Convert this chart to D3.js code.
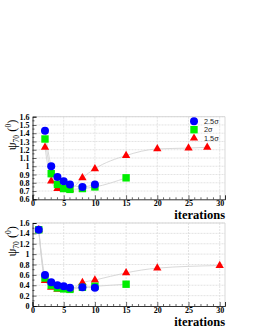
<!DOCTYPE html>
<html><head><meta charset="utf-8">
<script src="https://cdn.jsdelivr.net/npm/d3@7"></script>
<style>
body{margin:0;background:#fff;}
svg{display:block;}
</style></head>
<body>
<svg id="c" width="254" height="330"></svg>
<script>
// ---- data ----
const seriesNames = ["2.5σ", "2σ", "1.5σ"];
const seriesColors = ["#0000ff", "#00ee00", "#ff0000"];
const seriesShapes = ["circle", "square", "triangle"];

// top panel
const topX_25 = [2, 3, 4, 5, 6, 8, 10];
const topY_25 = [1.43, 1.00, 0.87, 0.82, 0.78, 0.75, 0.78];
const topX_20 = [2, 3, 4, 5, 6, 8, 10, 15];
const topY_20 = [1.33, 0.91, 0.78, 0.73, 0.72, 0.73, 0.75, 0.86];
const topX_15 = [2, 3, 4, 5, 6, 8, 10, 15, 20, 25, 28];
const topY_15 = [1.23, 0.82, 0.73, 0.72, 0.72, 0.86, 0.97, 1.13, 1.21, 1.22, 1.23];

// bottom panel
const botX_25 = [1, 2, 3, 4, 5, 6, 8, 10];
const botY_25 = [1.47, 0.60, 0.46, 0.40, 0.38, 0.35, 0.36, 0.35];
const botX_20 = [1, 2, 3, 4, 5, 6, 8, 10, 15];
const botY_20 = [1.47, 0.54, 0.40, 0.35, 0.33, 0.32, 0.36, 0.38, 0.42];
const botX_15 = [1, 2, 3, 4, 5, 6, 8, 10, 15, 20, 30];
const botY_15 = [1.47, 0.49, 0.36, 0.32, 0.32, 0.32, 0.45, 0.50, 0.64, 0.73, 0.78];

const xTicks = [0, 5, 10, 15, 20, 25, 30];
const topYTicks = [0.6, 0.7, 0.8, 0.9, 1, 1.1, 1.2, 1.3, 1.4, 1.5, 1.6];
const botYTicks = [0, 0.2, 0.4, 0.6, 0.8, 1, 1.2, 1.4, 1.6];

// ---- drawing ----
const svg = d3.select("#c");
const L = 32.5, R = 225;
const serifFont = "'Liberation Serif','Times New Roman',serif";

function panel(cfg){
  const x = d3.scaleLinear().domain([0, 30.85]).range([L, R]);
  const y = d3.scaleLinear().domain(cfg.ydom).range([cfg.bottom, cfg.top]);
  const g = svg.append("g");
  // grid
  g.selectAll(".gx").data(xTicks.filter(t=>t>0)).join("line")
    .attr("x1", d=>x(d)).attr("x2", d=>x(d)).attr("y1", cfg.top).attr("y2", cfg.bottom)
    .attr("stroke", "#dcdcdc").attr("stroke-width", 0.8).attr("stroke-dasharray", "2,1");
  g.selectAll(".gy").data(cfg.yticks.slice(1)).join("line")
    .attr("x1", L).attr("x2", R).attr("y1", d=>y(d)).attr("y2", d=>y(d))
    .attr("stroke", "#dcdcdc").attr("stroke-width", 0.8).attr("stroke-dasharray", "2,1");
  // frame top/right
  g.append("path").attr("d", `M${L},${cfg.top}H${R}V${cfg.bottom}`)
    .attr("fill", "none").attr("stroke", "#cfcfcf").attr("stroke-width", 0.8);

  // axes
  const xAxis = d3.axisBottom(x).tickValues(xTicks).tickSize(-4).tickPadding(1.5)
    .tickFormat(d3.format("d"));
  const xa = g.append("g").attr("transform", `translate(0,${cfg.bottom})`).call(xAxis);
  const minorX = d3.range(1, 31).filter(v=>v%5!==0);
  xa.selectAll(".mt").data(minorX).join("line").attr("class","mt")
    .attr("x1", d=>x(d)).attr("x2", d=>x(d)).attr("y1", 0).attr("y2", -2)
    .attr("stroke", "#000").attr("stroke-width", 0.6);
  const yAxis = d3.axisLeft(y).tickValues(cfg.yticks).tickSize(-4).tickPadding(3)
    .tickFormat(d=>d3.format("")(+d.toFixed(1)));
  const ya = g.append("g").attr("transform", `translate(${L},0)`).call(yAxis);
  const minorY = cfg.minorY;
  ya.selectAll(".mt").data(minorY).join("line").attr("class","mt")
    .attr("x1", 0).attr("x2", 2).attr("y1", d=>y(d)).attr("y2", d=>y(d))
    .attr("stroke", "#000").attr("stroke-width", 0.6);
  [xa, ya].forEach(a=>{
    a.select(".domain").attr("stroke", "#000").attr("stroke-width", 0.8);
    a.selectAll(".tick line").attr("stroke", "#000").attr("stroke-width", 0.6);
    a.selectAll("text").attr("font-family", serifFont).attr("font-weight", "bold")
      .attr("font-size", 8).attr("fill", "#000");
  });

  // lines
  const line = d3.line().x(d=>x(d[0])).y(d=>y(d[1])).curve(d3.curveMonotoneX);
  cfg.series.forEach(s=>{
    g.append("path").datum(d3.zip(s.xs, s.ys)).attr("d", line)
      .attr("fill", "none").attr("stroke", "#d4d4d4").attr("stroke-width", 0.9);
  });
  // markers: draw red, green, blue (blue on top)
  [2, 1, 0].forEach(i=>{
    const s = cfg.series[i];
    const pts = d3.zip(s.xs, s.ys);
    drawMarkers(g, pts.map(p=>[x(p[0]), y(p[1])]), i);
  });

  // x title
  g.append("text").attr("x", R).attr("y", cfg.bottom + cfg.titleOff).attr("text-anchor", "end")
    .attr("font-family", serifFont).attr("font-weight", "bold").attr("font-size", 12.5)
    .text("iterations");
  // y title
  const t = g.append("text").attr("transform", `translate(15.5,${cfg.top + 3}) rotate(-90)`)
    .attr("text-anchor", "end").attr("font-family", serifFont).attr("font-size", 12.5);
  t.append("tspan").text("ψ");
  t.append("tspan").attr("font-size", 7.5).attr("dy", 3).text("70");
  t.append("tspan").attr("dy", -3).text(" (");
  t.append("tspan").attr("font-size", 7.5).attr("dy", -5).text("0");
  t.append("tspan").attr("dy", 5).text(")");
  return {x, y, g};
}

function drawMarkers(g, pts, i){
  const col = seriesColors[i];
  const shape = seriesShapes[i];
  if (shape === "circle") {
    g.selectAll(null).data(pts).join("circle").attr("cx", d=>d[0]).attr("cy", d=>d[1])
      .attr("r", 4).attr("fill", col);
  } else if (shape === "square") {
    g.selectAll(null).data(pts).join("rect").attr("x", d=>d[0]-3.7).attr("y", d=>d[1]-3.7)
      .attr("width", 7.4).attr("height", 7.4).attr("fill", col);
  } else {
    const sym = d3.symbol().type(d3.symbolTriangle).size(30);
    g.selectAll(null).data(pts).join("path")
      .attr("transform", d=>`translate(${d[0]},${d[1]})`).attr("d", sym).attr("fill", col);
  }
}

const topPanel = panel({
  ydom: [0.6, 1.6], top: 116.7, bottom: 199.3, yticks: topYTicks, titleOff: 19.5,
  minorY: d3.range(0.65, 1.6, 0.1),
  series: [{xs: topX_25, ys: topY_25}, {xs: topX_20, ys: topY_20}, {xs: topX_15, ys: topY_15}]
});
const botPanel = panel({
  ydom: [0, 1.6], top: 223, bottom: 306, yticks: botYTicks, titleOff: 19.5,
  minorY: d3.range(0.1, 1.6, 0.2),
  series: [{xs: botX_25, ys: botY_25}, {xs: botX_20, ys: botY_20}, {xs: botX_15, ys: botY_15}]
});

// legend
const legY = [121.2, 129.7, 138.2];
seriesNames.forEach((n, i)=>{
  drawMarkers(svg, [[194, legY[i]]], i);
  svg.append("text").attr("x", 204).attr("y", legY[i] + 2.7).attr("font-family", "'Liberation Sans',Arial,sans-serif")
    .attr("font-size", 7.3).attr("fill", "#222").text(n);
});
</script>
</body></html>
